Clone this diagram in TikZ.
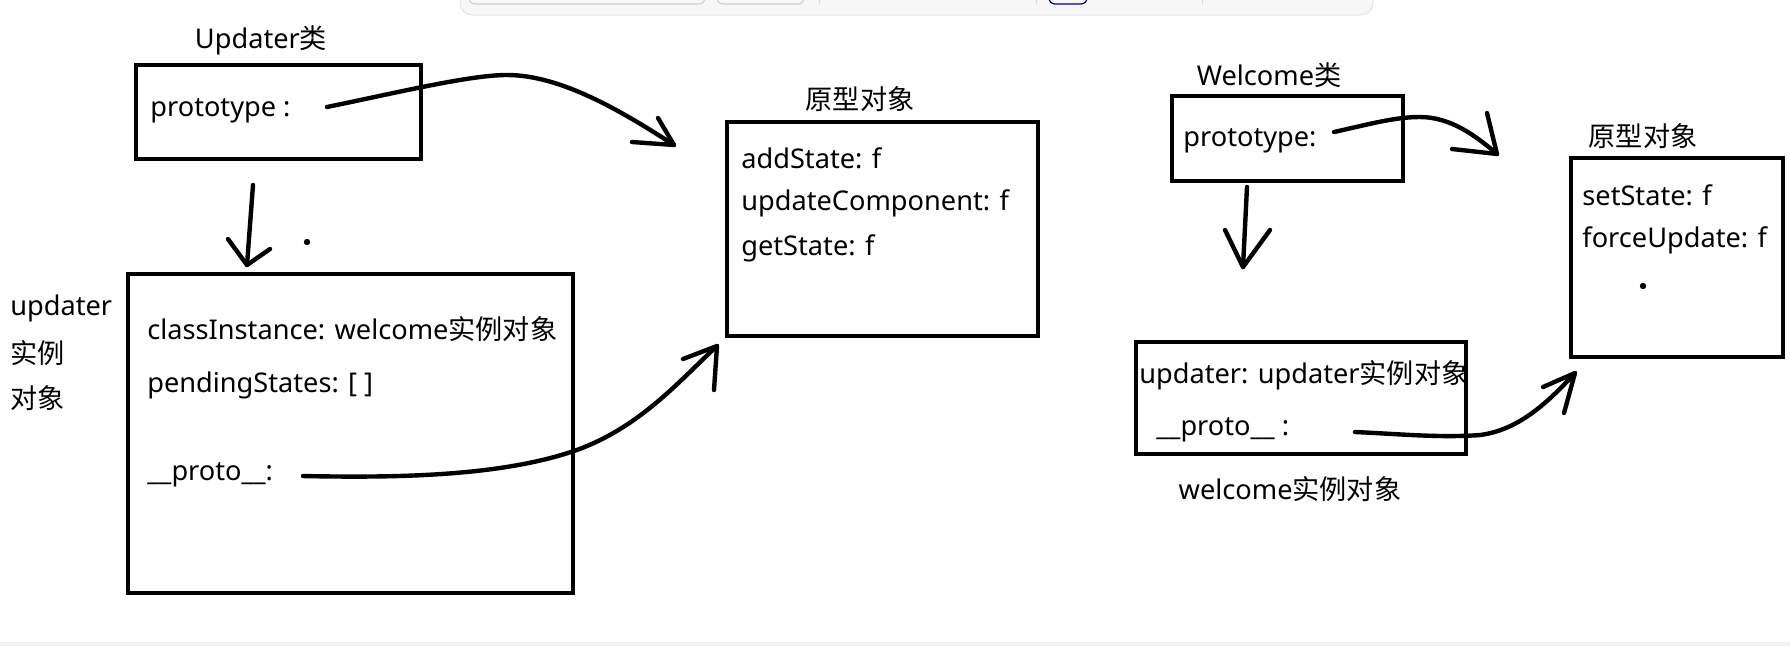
\documentclass[tikz,border=0pt]{standalone}
\usepackage{fontspec}
\setmainfont{Noto Sans}
\newfontfamily\cjk{Noto Sans CJK SC}
\begin{document}
\begin{tikzpicture}[x=0.0176cm,y=-0.0176cm,
  every node/.style={font=\fontsize{13.6}{16}\selectfont},
  box/.style={draw=black,line width=2.3pt,rectangle,inner sep=0pt},
  lbl/.style={inner sep=0pt,anchor=west,yshift=-3*0.0176cm},
  ttl/.style={inner sep=0pt,anchor=center,yshift=-2*0.0176cm},
  stroke/.style={line width=2.2pt,line cap=round,line join=round},
  ui/.style={draw=black!18,line width=0.6pt,rounded corners=3pt}]
\useasboundingbox (0,0) rectangle (1790,646);
% screenshot residue: toolbar at the top, band at the bottom
\fill[black!3,rounded corners=6pt] (460,-12) rectangle (1373,15);
\draw[black!10,line width=0.5pt,rounded corners=6pt] (460,-12) rectangle (1373,15);
\draw[ui] (469,-8) rectangle (705,4);
\draw[ui] (717,-8) rectangle (804,4);
\draw[black!15,line width=0.5pt] (819,-8) -- (819,4);
\draw[black!15,line width=0.5pt] (1036,-8) -- (1036,4);
\draw[ui,draw=blue!60!black] (1049,-8) rectangle (1087,4);
\draw[black!15,line width=0.5pt] (1202,-8) -- (1202,4);
\fill[black!5] (0,642) rectangle (1790,646);
% boxes
\node[box,minimum width=285*0.0176cm,minimum height=94*0.0176cm] (b1) at (278.5,112) {};
\node[box,minimum width=445*0.0176cm,minimum height=319*0.0176cm] (b2) at (350.5,433.5) {};
\node[box,minimum width=311*0.0176cm,minimum height=214*0.0176cm] (b3) at (882.5,229) {};
\node[box,minimum width=231*0.0176cm,minimum height=85*0.0176cm] (b4) at (1287.5,138.5) {};
\node[box,minimum width=330*0.0176cm,minimum height=112*0.0176cm] (b5) at (1301,398) {};
\node[box,minimum width=212*0.0176cm,minimum height=199*0.0176cm] (b6) at (1677,257.5) {};
% texts
\node[ttl] (tUpd) at (261,38) {Updater{\cjk 类}};
\node[lbl] (tProto1) at (150,108) {prototype :};
\node[lbl] (tInst1) at (10,305) {updater};
\node[lbl] (tInst2) at (10,350) {\cjk 实例};
\node[lbl] (tInst3) at (10,395) {\cjk 对象};
\node[lbl] (tCls) at (147,326) {classInstance: welcome{\cjk 实例对象}};
\node[lbl] (tPend) at (147,382) {pendingStates: [ ]};
\node[lbl] (tPr2) at (147,472) {\_\_proto\_\_:};
\node[ttl] (tYx1) at (860,97) {\cjk 原型对象};
\node[lbl] (tAdd) at (741,155) {addState: f};
\node[lbl] (tUpc) at (741,200) {updateComponent: f};
\node[lbl] (tGet) at (741,245) {getState: f};
\node[ttl] (tWel) at (1269,73) {Welcome{\cjk 类}};
\node[lbl] (tProto4) at (1183,138) {prototype:};
\node[ttl] (tYx2) at (1643,134) {\cjk 原型对象};
\node[lbl] (tSet) at (1582,192) {setState: f};
\node[lbl] (tForce) at (1582,237) {forceUpdate: f};
\node[lbl] (tUpdr) at (1139,372) {updater: updater{\cjk 实例对象}};
\node[lbl] (tPr5) at (1156,427) {\_\_proto\_\_ :};
\node[ttl] (tWinst) at (1290,487) {welcome{\cjk 实例对象}};
% arrow coordinates
\coordinate (a1s) at (327,107);
\coordinate (a1m) at (507,75);
\coordinate (a1t) at (674,145);
\coordinate (a1w1) at (658,118);
\coordinate (a1w2) at (632,142);
\coordinate (a2s) at (303,476);
\coordinate (a2m) at (574,451);
\coordinate (a2t) at (717,346);
\coordinate (a2w1) at (683,359);
\coordinate (a2w2) at (714,390);
\coordinate (a3s) at (253,185);
\coordinate (a3t) at (247,265);
\coordinate (a3w1) at (228,239);
\coordinate (a3w2) at (270,249);
\coordinate (a4s) at (1334,132);
\coordinate (a4m) at (1420,117);
\coordinate (a4t) at (1497,154);
\coordinate (a4w1) at (1487,113);
\coordinate (a4w2) at (1452,149);
\coordinate (a5s) at (1247,187);
\coordinate (a5t) at (1243,267);
\coordinate (a5w1) at (1225,230);
\coordinate (a5w2) at (1270,230);
\coordinate (a6s) at (1355,432);
\coordinate (a6m) at (1480,435);
\coordinate (a6t) at (1575,373);
\coordinate (a6w1) at (1543,387);
\coordinate (a6w2) at (1564,413);
% arrows (hand drawn style)
\draw[stroke] (a1s) .. controls (400,92) and (470,75) .. (a1m) .. controls (560,75) and (620,110) .. (a1t);
\draw[stroke] (a1w1) -- (a1t) -- (a1w2);
\draw[stroke] (a2s) .. controls (400,478) and (500,476) .. (a2m) .. controls (640,428) and (680,380) .. (a2t);
\draw[stroke] (a2w1) -- (a2t) -- (a2w2);
\draw[stroke] (a3s) -- (a3t);
\draw[stroke] (a3w1) -- (a3t) -- (a3w2);
\draw[stroke] (a4s) .. controls (1370,124) and (1395,117) .. (a4m) .. controls (1450,117) and (1475,135) .. (a4t);
\draw[stroke] (a4w1) -- (a4t) -- (a4w2);
\draw[stroke] (a5s) -- (a5t);
\draw[stroke] (a5w1) -- (a5t) -- (a5w2);
\draw[stroke] (a6s) .. controls (1400,434) and (1440,438) .. (a6m) .. controls (1520,430) and (1550,400) .. (a6t);
\draw[stroke] (a6w1) -- (a6t) -- (a6w2);
% dots
\fill (307,242) circle (3.2);
\fill (1643,286) circle (3.2);
\end{tikzpicture}
\end{document}
